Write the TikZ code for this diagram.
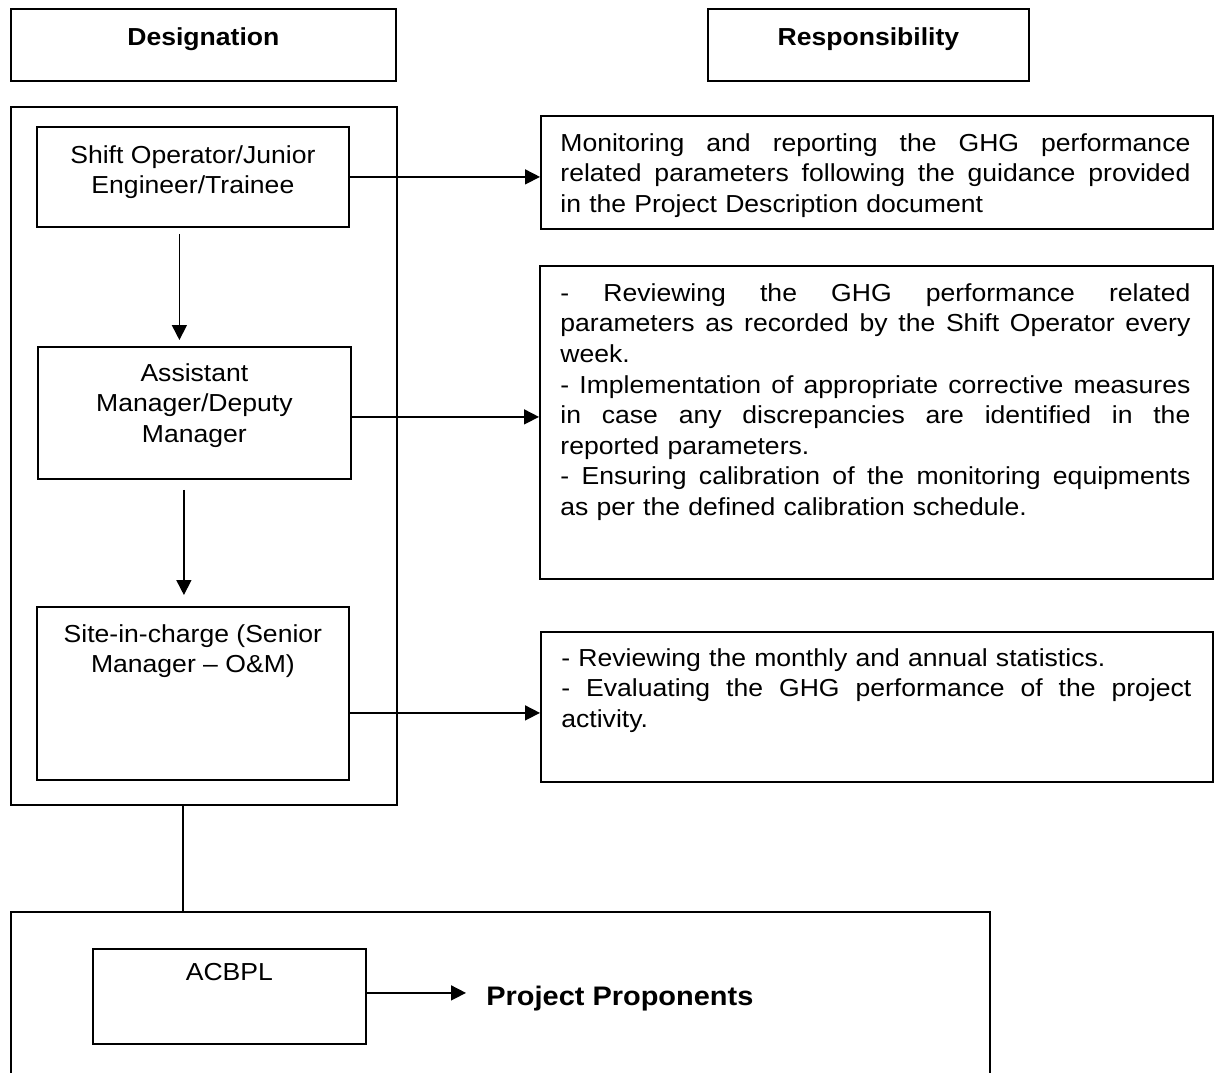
\documentclass[tikz,border=0pt]{standalone}
\usepackage{fontspec}
\setmainfont{Liberation Sans}[FakeStretch=1.08]
\usetikzlibrary{arrows.meta,calc}
\newcommand{\jl}[1]{\leavevmode\hbox to 315pt{\spaceskip=0.28em plus 1fil\relax #1}}
\begin{document}
\begin{tikzpicture}[x=0.5pt,y=-0.5pt,
  box/.style={draw,line width=0.9pt,rectangle,inner sep=0pt,anchor=north west},
  lbl/.style={inner sep=0pt,anchor=north,align=center,font=\fontsize{12.3}{15.3}\selectfont},
  head/.style={inner sep=0pt,anchor=base,font=\bfseries\fontsize{12.3}{15.3}\selectfont},
  rtxt/.style={inner sep=0pt,anchor=north west,text width=315pt,align=left,font=\fontsize{12.3}{15.3}\selectfont},
  arr/.style={line width=0.8pt,-{Triangle[length=7.5pt,width=7.5pt]}},
  conn/.style={line width=0.8pt}]
\useasboundingbox (0,0) rectangle (1214,1072);
\clip (0,0) rectangle (1214,1072);
% header boxes
\node[box,minimum width=192.5pt,minimum height=36pt] (desig) at (10,8) {};
\node[box,minimum width=160.5pt,minimum height=36pt] (resp) at (707,8) {};
\node[head] (desigT) at ($(desig.north)+(0,37)$) {Designation};
\node[head] (respT) at ($(resp.north)+(0,37)$) {Responsibility};
% left column
\node[box,minimum width=193pt,minimum height=349pt] (outer) at (10,106) {};
\node[box,minimum width=156pt,minimum height=50pt] (shift) at (36,126) {};
\node[box,minimum width=156.5pt,minimum height=66pt] (asst) at (37,346) {};
\node[box,minimum width=156pt,minimum height=86.5pt] (site) at (36,606) {};
\node[lbl] (shiftT) at ($(shift.north)+(0,19)$) {Shift Operator/Junior\\Engineer/Trainee};
\node[lbl] (asstT) at ($(asst.north)+(0,17)$) {Assistant\\Manager/Deputy\\Manager};
\node[lbl] (siteT) at ($(site.north)+(0,18)$) {Site-in-charge (Senior\\Manager – O\&M)};
% right column
\node[box,minimum width=336pt,minimum height=56.5pt] (mon) at (540,115) {};
\node[box,minimum width=336.5pt,minimum height=156.5pt] (rev) at (539,265) {};
\node[box,minimum width=336pt,minimum height=75pt] (stats) at (540,631) {};
\node[rtxt] (monT) at ($(mon.north west)+(20,18)$) {\jl{Monitoring and reporting the GHG performance}\\
\jl{related parameters following the guidance provided}\\
in the Project Description document};
\node[rtxt] (revT) at ($(rev.north west)+(21,18)$) {\jl{- Reviewing the GHG performance related}\\
\jl{parameters as recorded by the Shift Operator every}\\
week.\\
\jl{- Implementation of appropriate corrective measures}\\
\jl{in case any discrepancies are identified in the}\\
reported parameters.\\
\jl{- Ensuring calibration of the monitoring equipments}\\
as per the defined calibration schedule.};
\node[rtxt] (statsT) at ($(stats.north west)+(21,17)$) {- Reviewing the monthly and annual statistics.\\
\jl{- Evaluating the GHG performance of the project}\\
activity.};
% connectors
\draw[arr] (shift.east) -- (shift.east -| mon.west);
\draw[arr] ([yshift=-2pt]asst.east) -- ([yshift=-2pt]asst.east -| rev.west);
\draw[arr] ([yshift=-9.75pt]site.east) -- ([yshift=-9.75pt]site.east -| stats.west);
\draw[arr] ([xshift=-6.75pt,yshift=-3pt]shift.south) -- ([xshift=-6.75pt,yshift=3pt]shift.south |- asst.north);
\draw[arr] ([xshift=-5.25pt,yshift=-5pt]asst.south) -- ([xshift=-5.25pt,yshift=5.5pt]asst.south |- site.north);
% bottom
\node[box,minimum width=489.5pt,minimum height=90pt] (bottom) at (10,911) {};
\draw[conn] ([xshift=-10.5pt]outer.south) -- ([xshift=-10.5pt]outer.south |- bottom.north);
\node[box,minimum width=136.5pt,minimum height=47.5pt] (acbpl) at (92,948) {};
\node[lbl] (acbplT) at ($(acbpl.north)+(0,15)$) {ACBPL};
\node[inner sep=0pt,anchor=base west,font=\bfseries\fontsize{13.4}{16}\selectfont] (pp) at (486,1005) {Project Proponents};
\draw[arr,shorten >=10pt] ([yshift=1.75pt]acbpl.east) -- ([yshift=1.75pt]acbpl.east -| pp.west);
\end{tikzpicture}
\end{document}
